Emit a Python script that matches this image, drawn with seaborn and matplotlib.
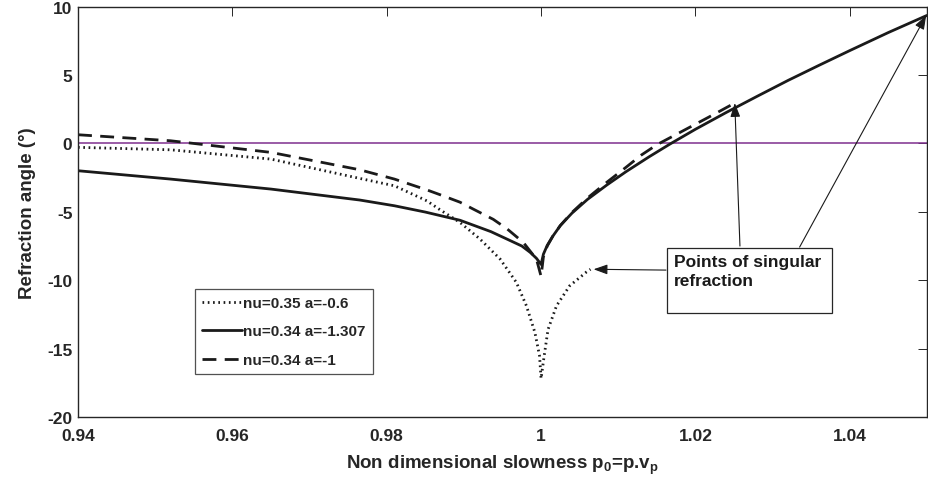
import numpy as np
import pandas as pd
import seaborn as sns
import matplotlib.pyplot as plt
from matplotlib.patches import Rectangle

# curves (x = p0, y = refraction angle in degrees)
x_a06 = [0.940, 0.952, 0.965, 0.9765, 0.981, 0.9852, 0.9869, 0.9895, 0.9921, 0.9947,
         0.9968, 0.9981, 0.9992, 0.9998, 1.0, 1.0004, 1.0009, 1.0020, 1.0037, 1.0059, 1.0064]
y_a06 = [-0.29, -0.47, -1.15, -2.56, -3.1, -4.2, -4.85, -5.78, -7.0, -8.46,
         -10.16, -11.87, -13.82, -15.53, -17.18, -15.53, -13.6, -11.87, -10.41, -9.39, -9.2]

x_a1307 = [0.940, 0.952, 0.965, 0.9765, 0.981, 0.985, 0.9895, 0.9935, 0.9956, 0.9975,
           0.9986, 0.9994, 1.0, 1.0003, 1.0008, 1.0015, 1.0025, 1.004, 1.006, 1.0085,
           1.011, 1.014, 1.0167, 1.020, 1.024, 1.028, 1.032, 1.036, 1.040, 1.045, 1.050]
y_a1307 = [-2.0, -2.61, -3.34, -4.14, -4.56, -5.02, -5.62, -6.45, -7.0, -7.5,
           -7.97, -8.4, -8.85, -8.1, -7.45, -6.8, -6.0, -5.1, -4.1, -3.05,
           -2.07, -0.98, -0.05, 1.03, 2.26, 3.44, 4.6, 5.7, 6.78, 8.1, 9.35]

x_a1 = [0.940, 0.952, 0.965, 0.9765, 0.981, 0.9852, 0.9869, 0.9895, 0.9912, 0.9938,
        0.9956, 0.9977, 0.9994, 1.0, 1.0003, 1.0008, 1.0015, 1.0025, 1.004, 1.006,
        1.0085, 1.011, 1.013, 1.015, 1.0175, 1.020, 1.0225, 1.0251]
y_a1 = [0.63, 0.19, -0.66, -1.93, -2.61, -3.4, -3.75, -4.3, -4.8, -5.55,
        -6.25, -7.24, -8.46, -9.72, -8.3, -7.5, -6.8, -6.0, -5.05, -4.0,
        -2.85, -1.75, -0.85, -0.1, 0.65, 1.4, 2.15, 2.95]

labels = ['nu=0.35 a=-0.6', 'nu=0.34 a=-1.307', 'nu=0.34 a=-1']
xticks = [0.94, 0.96, 0.98, 1.0, 1.02, 1.04]
xtick_labels = ['0.94', '0.96', '0.98', '1', '1.02', '1.04']
yticks = [-20, -15, -10, -5, 0, 5, 10]

sns.set_theme(style='white')
plt.rcParams['font.family'] = ['Liberation Sans', 'DejaVu Sans']
plt.rcParams['font.weight'] = 'bold'
plt.rcParams['axes.unicode_minus'] = False
plt.rcParams['mathtext.fontset'] = 'custom'
plt.rcParams['mathtext.rm'] = 'Liberation Sans:bold'
plt.rcParams['mathtext.it'] = 'Liberation Sans:bold'
plt.rcParams['mathtext.bf'] = 'Liberation Sans:bold'

fig = plt.figure(figsize=(9.29, 4.85), dpi=100)
ax = fig.add_axes([0.084, 0.138, 0.9138, 0.8465])

ax.axhline(0, color='#7E2F8E', lw=1.1, zorder=1)

line_col = '#1a1a1a'
sns.lineplot(x=x_a06, y=y_a06, sort=False, estimator=None, ax=ax, color=line_col,
             lw=2, linestyle=(0, (0.6, 1.3)), label=labels[0])
sns.lineplot(x=x_a1307, y=y_a1307, sort=False, estimator=None, ax=ax, color=line_col,
             lw=2, linestyle='-', label=labels[1])
sns.lineplot(x=x_a1, y=y_a1, sort=False, estimator=None, ax=ax, color=line_col,
             lw=2, linestyle=(0, (5, 3)), label=labels[2])

ax.set_xlim(0.94, 1.05)
ax.set_ylim(-20, 10)
ax.set_xticks(xticks)
ax.set_xticklabels(xtick_labels)
ax.set_yticks(yticks)
ax.tick_params(direction='in', length=6.5, width=0.7, top=True, right=True,
               labelsize=12.5, colors='#262626')
ax.tick_params(axis='x', pad=8)
ax.tick_params(axis='y', pad=4)
for lab in ax.get_xticklabels() + ax.get_yticklabels():
    lab.set_fontweight('bold')
for sp in ax.spines.values():
    sp.set_color('#262626')
    sp.set_linewidth(1.0)

ax.set_xlabel(r'Non dimensional slowness p$_0$=p.v$_p$', fontsize=13.5, fontweight='bold',
              color='#262626', labelpad=7)
ax.set_ylabel('Refraction angle (°)', fontsize=13.5, fontweight='bold', color='#262626',
              labelpad=8)

leg = ax.legend(loc='upper left', bbox_to_anchor=(0.138, 0.312), fontsize=11,
                frameon=True, fancybox=False, edgecolor='#262626', handlelength=2.6,
                labelspacing=0.95, borderpad=0.45, handletextpad=0.1, borderaxespad=0)
leg.get_frame().set_linewidth(0.9)
for t in leg.get_texts():
    t.set_fontweight('bold')

# text box with arrows
ax.add_patch(Rectangle((0.694, 0.2533), 0.194, 0.1584, transform=ax.transAxes,
                       facecolor='white', edgecolor='#262626', lw=0.9, zorder=5))
ax.text(0.702, 0.398, 'Points of singular\nrefraction', transform=ax.transAxes,
        fontsize=12.5, fontweight='bold', va='top', ha='left', linespacing=1.4,
        color='#1a1a1a', zorder=6)

arrow_kw = dict(arrowstyle='-|>,head_length=0.7,head_width=0.25', color='#1a1a1a',
                lw=0.8, shrinkA=0, shrinkB=0)
ax.annotate('', xy=(x_a1[-1], y_a1[-1]), xytext=(0.7797, 0.4166),
            textcoords='axes fraction', arrowprops=arrow_kw, zorder=4)
ax.annotate('', xy=(x_a1307[-1] - 0.0001, y_a1307[-1]), xytext=(0.850, 0.414),
            textcoords='axes fraction', arrowprops=arrow_kw, zorder=4)
ax.annotate('', xy=(x_a06[-1] + 0.0004, y_a06[-1]), xytext=(0.6926, 0.358),
            textcoords='axes fraction', arrowprops=arrow_kw, zorder=4)

plt.savefig('out.png', dpi=100)
